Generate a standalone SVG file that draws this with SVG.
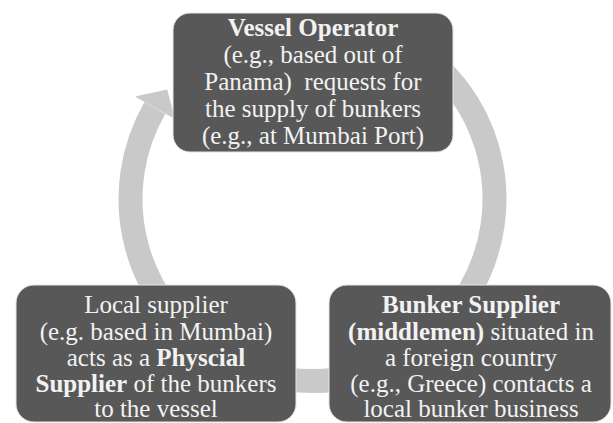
<svg xmlns="http://www.w3.org/2000/svg" width="613" height="423" viewBox="0 0 613 423">
<style>
.box{fill:#585858;stroke:#e6e6e6;stroke-width:1}
.t{font-family:"Liberation Serif","Times New Roman",serif;font-size:25px;fill:#f2f2f2;text-anchor:middle;white-space:pre}
.b{font-weight:bold}
.ring{fill:none;stroke:#c9c9c9;stroke-width:24}
.head{fill:#c9c9c9}
</style>
<rect width="613" height="423" fill="#ffffff"/>
<g id="connectors">
<path class="ring" d="M403.5,41.4 A182,182 0 1 1 154.9,108"/>
<polygon class="head" points="135,96.5 167.2,89.5 174.9,119"/>
</g>
<g id="vessel-operator">
<rect class="box" x="173" y="13" width="280" height="139" rx="17"/>
<text class="t" x="313" y="36"><tspan class="b">Vessel Operator</tspan></text>
<text class="t" x="313" y="63">(e.g., based out of</text>
<text class="t" x="313" y="90">Panama)  requests for</text>
<text class="t" x="313" y="117">the supply of bunkers</text>
<text class="t" x="313" y="144">(e.g., at Mumbai Port)</text>
</g>
<g id="bunker-supplier">
<rect class="box" x="329" y="285" width="282" height="137" rx="18"/>
<text class="t" x="471" y="313"><tspan class="b">Bunker Supplier</tspan></text>
<text class="t" x="471" y="340"><tspan class="b">(middlemen)</tspan> situated in</text>
<text class="t" x="471" y="366">a foreign country</text>
<text class="t" x="471" y="392">(e.g., Greece) contacts a</text>
<text class="t" x="471" y="417">local bunker business</text>
</g>
<g id="local-supplier">
<rect class="box" x="16" y="285" width="280" height="137" rx="18"/>
<text class="t" x="156" y="313">Local supplier</text>
<text class="t" x="156" y="340">(e.g. based in Mumbai)</text>
<text class="t" x="156" y="366">acts as a <tspan class="b">Physcial</tspan></text>
<text class="t" x="156" y="392"><tspan class="b">Supplier</tspan> of the bunkers</text>
<text class="t" x="156" y="417">to the vessel</text>
</g>
</svg>
